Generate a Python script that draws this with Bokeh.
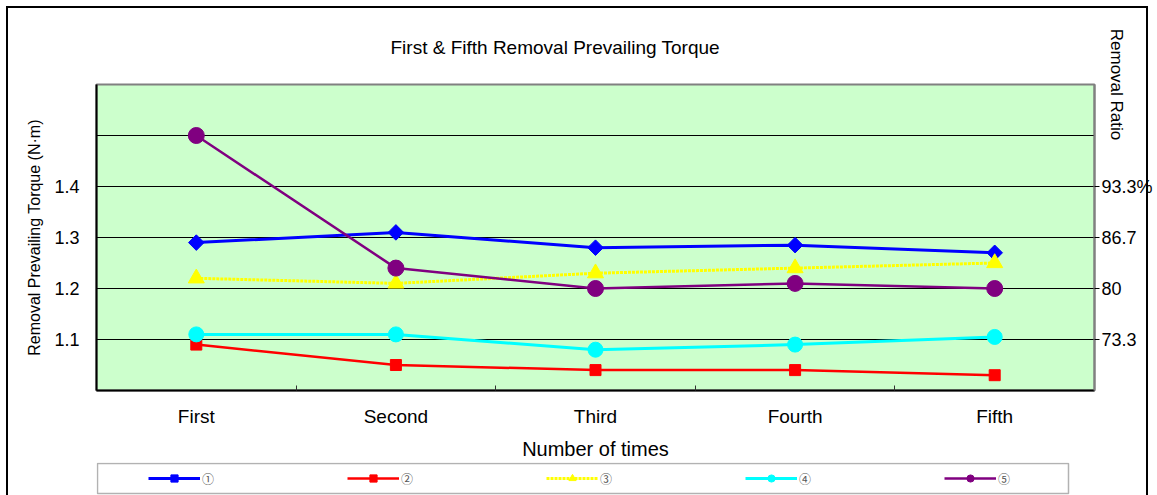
import math
from bokeh.plotting import figure
from bokeh.layouts import column
from bokeh.models import FixedTicker, LinearAxis, Legend, LegendItem, InlineStyleSheet, BoxAnnotation
from bokeh.embed import file_html
from bokeh.resources import INLINE

# ---------------- data ----------------
categories = ["First", "Second", "Third", "Fourth", "Fifth"]
series_names = ["①", "②", "③", "④", "⑤"]
s1 = [1.29, 1.31, 1.28, 1.285, 1.27]
s2 = [1.09, 1.05, 1.04, 1.04, 1.03]
s3 = [1.22, 1.21, 1.23, 1.24, 1.25]
s4 = [1.11, 1.11, 1.08, 1.09, 1.105]
s5 = [1.50, 1.24, 1.20, 1.21, 1.20]
left_label_ticks = [1.1, 1.2, 1.3, 1.4]
grid_ticks = [1.1, 1.2, 1.3, 1.4, 1.5]
right_ticks = [1.1, 1.2, 1.3, 1.4]
right_labels = ["73.3", "80", "86.7", "93.3%"]

title_text = "First & Fifth Removal Prevailing Torque"
x_title = "Number of times"
y_title = "Removal Prevailing Torque (N\u00b7m)"
y2_title = "Removal Ratio"

# ---------------- figure ----------------
W, H1, H2 = 1157, 462, 33
FONT = "Liberation Sans"
xs = list(range(1, len(categories) + 1))

frame_css = InlineStyleSheet(css="""
:host { position: relative; }
:host::after { content: ""; position: absolute; left: 6px; top: 6px; width: 1142px; height: 600px;
               border: 2px solid black; pointer-events: none; box-sizing: border-box; }
""")
side_css = InlineStyleSheet(css="""
:host { position: relative; }
:host::after { content: ""; position: absolute; left: 6px; top: -20px; width: 1142px; height: 100px;
               border-left: 2px solid black; border-right: 2px solid black;
               pointer-events: none; box-sizing: border-box; }
""")

p = figure(width=W, height=H1, x_range=(0.5, len(categories) + 0.5), y_range=(1.0, 1.6),
           output_backend="svg", toolbar_location=None,
           min_border_left=96, min_border_right=63, min_border_top=84, min_border_bottom=71,
           background_fill_color="#CCFFCC", border_fill_color="white",
           outline_line_color="#808080", outline_line_width=2,
           title=title_text, stylesheets=[frame_css])

p.title.text_font = FONT
p.title.text_font_size = "19px"
p.title.text_font_style = "normal"
p.title.text_color = "black"
p.title.align = "left"
p.title.padding = 22
p.title.offset = 272

# x axis
xa = p.xaxis[0]
xa.ticker = FixedTicker(ticks=xs, minor_ticks=[x - 0.5 for x in xs] + [xs[-1] + 0.5])
xa.major_label_overrides = {x: c for x, c in zip(xs, categories)}
xa.major_tick_in = 0
xa.major_tick_out = 0
xa.minor_tick_in = 5
xa.minor_tick_out = 0
xa.minor_tick_line_color = "#333333"
xa.axis_line_color = "black"
xa.axis_line_width = 2
xa.major_label_text_font = FONT
xa.major_label_text_font_size = "19px"
xa.major_label_text_color = "black"
xa.major_label_standoff = 15
xa.axis_label = x_title
xa.axis_label_text_font = FONT
xa.axis_label_text_font_size = "20px"
xa.axis_label_text_font_style = "normal"
xa.axis_label_text_color = "black"
xa.axis_label_standoff = 8

# left y axis
ya = p.yaxis[0]
ya.ticker = FixedTicker(ticks=left_label_ticks)
ya.major_tick_in = 0
ya.major_tick_out = 0
ya.minor_tick_in = 0
ya.minor_tick_out = 0
ya.axis_line_color = "black"
ya.axis_line_width = 2
ya.major_label_text_font = FONT
ya.major_label_text_font_size = "18px"
ya.major_label_text_color = "black"
ya.major_label_standoff = 17
ya.axis_label = y_title
ya.axis_label_text_font = FONT
ya.axis_label_text_font_size = "16px"
ya.axis_label_text_font_style = "normal"
ya.axis_label_text_color = "black"
ya.axis_label_standoff = 8

# right y axis
ra = LinearAxis(ticker=FixedTicker(ticks=right_ticks),
                major_label_overrides={t: l for t, l in zip(right_ticks, right_labels)},
                major_tick_in=0, major_tick_out=5, minor_tick_in=0, minor_tick_out=0,
                major_tick_line_color="black", axis_line_color="#808080", axis_line_width=2,
                major_label_text_font=FONT, major_label_text_font_size="18px",
                major_label_text_color="black", major_label_standoff=2,
                axis_label=y2_title, axis_label_text_font=FONT, axis_label_text_font_size="17px",
                axis_label_text_font_style="normal", axis_label_text_color="black",
                axis_label_standoff=-49, axis_label_align="end")
p.add_layout(ra, "right")

# grid
p.xgrid.visible = False
p.ygrid[0].ticker = FixedTicker(ticks=grid_ticks)
p.ygrid[0].grid_line_color = "black"
p.ygrid[0].grid_line_width = 1.2

# ---------------- series ----------------
series = [s1, s2, s3, s4, s5]
colors = ["#0000FF", "#FF0000", "#FFFF00", "#00FFFF", "#800080"]
markers = ["square", "square", "triangle", "circle", "circle"]
angles = [math.pi / 4, 0, 0, 0, 0]
sizes = [11, 11, 16, 15, 16]
dashes = ["solid", "solid", "3 1", "solid", "solid"]
widths = [3, 2.5, 3, 3, 2.5]

for ys, c, m, a, s, d, w in zip(series, colors, markers, angles, sizes, dashes, widths):
    p.line(xs, ys, line_color=c, line_width=w, line_dash=d)
    p.scatter(xs, ys, marker=m, angle=a, size=s, fill_color=c, line_color=c)

# ---------------- legend strip (separate figure below the chart) ----------------
p2 = figure(width=W, height=H2, x_range=(100, 101), y_range=(100, 101),
            output_backend="svg", toolbar_location=None,
            x_axis_location=None, y_axis_location=None,
            min_border_left=0, min_border_right=0, min_border_top=0, min_border_bottom=0,
            outline_line_color=None, background_fill_color="white", border_fill_color="white",
            stylesheets=[side_css])
p2.title.visible = False
p2.xgrid.visible = False
p2.ygrid.visible = False

items = []
for name, ys, c, m, a, s, d, w in zip(series_names, series, colors, markers, angles, sizes, dashes, widths):
    lr = p2.line(xs, ys, line_color=c, line_width=w, line_dash=d)
    sr = p2.scatter(xs, ys, marker=m, angle=a, size=s, fill_color=c, line_color=c)
    items.append(LegendItem(label=name, renderers=[lr, sr]))

# the strip's frame is aligned with the chart frame (starts at x = 96 on the page)
p2.add_layout(BoxAnnotation(left=1, right=972, bottom=2, top=32,
                            left_units="screen", right_units="screen",
                            bottom_units="screen", top_units="screen",
                            fill_alpha=0, line_color="black", line_width=1.5))

legend = Legend(items=items, orientation="horizontal", location=(52, 8),
                padding=0, margin=0, spacing=125, glyph_width=52, glyph_height=18,
                label_width=20, label_height=18, label_standoff=2,
                label_text_font="Noto Sans CJK JP", label_text_font_size="12px",
                label_text_color="#555555",
                border_line_alpha=0, background_fill_alpha=0)
p2.add_layout(legend, "center")

layout = column(p, p2, spacing=0)
open("out.html", "w").write(file_html(layout, INLINE))
